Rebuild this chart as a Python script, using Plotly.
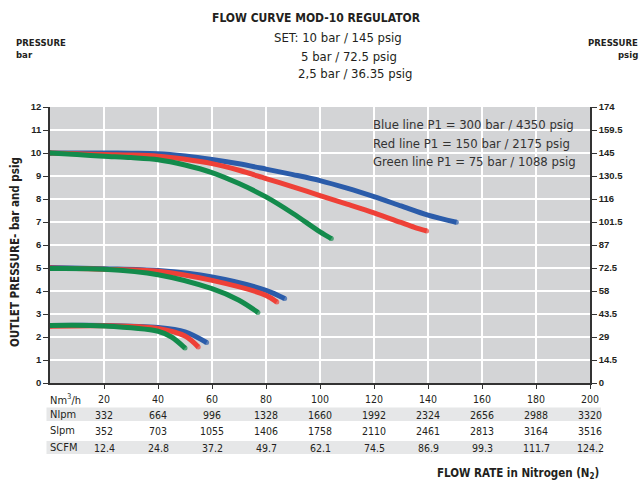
import plotly.graph_objects as go

# ---------------- data ----------------
blue_10_x = [0, 10, 20, 30, 40, 50, 60, 70, 80, 90, 100, 110, 120, 130, 140, 150.5]
blue_10_y = [10.0, 10.0, 10.0, 9.99, 9.97, 9.87, 9.72, 9.53, 9.3, 9.06, 8.8, 8.47, 8.1, 7.7, 7.3, 6.99]
red_10_x = [0, 10, 20, 30, 40, 50, 60, 70, 80, 90, 100, 110, 120, 130, 135, 139.5]
red_10_y = [10.0, 9.97, 9.93, 9.91, 9.86, 9.73, 9.54, 9.25, 8.89, 8.53, 8.15, 7.78, 7.4, 6.98, 6.77, 6.61]
green_10_x = [0, 10, 20, 30, 40, 50, 60, 70, 80, 90, 100, 104.2]
green_10_y = [10.0, 9.93, 9.86, 9.8, 9.71, 9.48, 9.15, 8.67, 8.09, 7.37, 6.57, 6.28]

blue_5_x = [0, 20, 40, 60, 80, 86.9]
blue_5_y = [5.02, 4.97, 4.89, 4.61, 4.03, 3.67]
red_5_x = [0, 20, 40, 60, 80, 84]
red_5_y = [5.0, 4.95, 4.86, 4.46, 3.81, 3.52]
green_5_x = [0, 20, 40, 60, 70, 77]
green_5_y = [4.98, 4.95, 4.71, 4.1, 3.6, 3.07]

blue_25_x = [0, 20, 40, 50, 58]
blue_25_y = [2.5, 2.5, 2.41, 2.22, 1.76]
red_25_x = [0, 20, 40, 50, 54.9]
red_25_y = [2.47, 2.49, 2.37, 2.04, 1.57]
green_25_x = [0, 20, 40, 45, 50]
green_25_y = [2.5, 2.48, 2.25, 2.0, 1.52]

nm3h = [20, 40, 60, 80, 100, 120, 140, 160, 180, 200]
nlpm = ["332", "664", "996", "1328", "1660", "1992", "2324", "2656", "2988", "3320"]
slpm = ["352", "703", "1055", "1406", "1758", "2110", "2461", "2813", "3164", "3516"]
scfm = ["12.4", "24.8", "37.2", "49.7", "62.1", "74.5", "86.9", "99.3", "111.7", "124.2"]
row_labels = ["Nm<sup>3</sup>/h", "Nlpm", "Slpm", "SCFM"]

bar_ticks = list(range(0, 13))
psig_ticks = [0, 14.5, 29, 43.5, 58, 72.5, 87, 101.5, 116, 130.5, 145, 159.5, 174]
psig_labels = ["0", "14.5", "29", "43.5", "58", "72.5", "87", "101.5", "116", "130.5", "145", "159.5", "174"]

legend_lines = ["Blue line P1 = 300 bar / 4350 psig",
                "Red line P1 = 150 bar / 2175 psig",
                "Green line P1 = 75 bar / 1088 psig"]

BLUE = "#2b5caa"
RED = "#ee4037"
GREEN = "#138b4c"
COND = "DejaVu Sans Condensed, sans-serif"
TXT = "#231f20"

fig = go.Figure()

curves = [
    (blue_10_x, blue_10_y, BLUE), (red_10_x, red_10_y, RED), (green_10_x, green_10_y, GREEN),
    (blue_5_x, blue_5_y, BLUE), (red_5_x, red_5_y, RED), (green_5_x, green_5_y, GREEN),
    (blue_25_x, blue_25_y, BLUE), (red_25_x, red_25_y, RED), (green_25_x, green_25_y, GREEN),
]
for xs, ys, c in curves:
    n = len(xs)
    fig.add_trace(go.Scatter(
        x=xs, y=ys, mode="lines+markers",
        line=dict(color=c, width=5, shape="spline", smoothing=0.9),
        marker=dict(color=c, size=[5] + [0] * (n - 2) + [5], line=dict(width=0)),
        showlegend=False, hoverinfo="skip"))

# invisible trace for right axis
fig.add_trace(go.Scatter(x=[0], y=[0], yaxis="y2", mode="markers",
                         marker=dict(opacity=0), showlegend=False, hoverinfo="skip"))

H = 276.0  # plot height px
def py(pix):
    return (383 - pix) / H

def px(pix):
    return (pix - 50) / 540

# table gray bands
for y_top, y_bot in ((407.5, 421), (441, 454)):
    fig.add_shape(type="rect", xref="paper", yref="paper",
                  x0=px(46.5), x1=px(601), y0=py(y_bot), y1=py(y_top),
                  fillcolor="#e6e7e8", line=dict(width=0), layer="below")

row_y = [399, 414.5, 431, 447.5]
rows = [[str(v) for v in nm3h], nlpm, slpm, scfm]
for ry, lab, vals in zip(row_y, row_labels, rows):
    fig.add_annotation(x=px(47.5), xref="paper", y=py(ry), yref="paper", text=lab,
                       showarrow=False, xanchor="left", yanchor="middle",
                       font=dict(family=COND, size=11, color=TXT))
    for xv, t in zip(nm3h, vals):
        fig.add_annotation(x=xv, xref="x", y=py(ry), yref="paper", text=t,
                           showarrow=False, xanchor="center", yanchor="middle",
                           font=dict(family=COND, size=10.5, color=TXT))

# legend text inside plot
for i, t in enumerate(legend_lines):
    fig.add_annotation(x=px(371), xref="paper", y=py(124.5 + i * 18.5), yref="paper",
                       text=t, showarrow=False, xanchor="left", yanchor="middle",
                       font=dict(family=COND, size=13, color="#333333"))

# titles
fig.add_annotation(x=px(316), xref="paper", y=py(18), yref="paper",
                   text="<b>FLOW CURVE MOD-10 REGULATOR</b>", showarrow=False,
                   xanchor="center", yanchor="middle",
                   font=dict(family=COND, size=12, color=TXT))
sub = [("SET: 10 bar / 145 psig", 272, 37), ("5 bar / 72.5 psig", 299, 56), ("2,5 bar / 36.35 psig", 296, 74)]
for t, xp, yp in sub:
    fig.add_annotation(x=px(xp), xref="paper", y=py(yp), yref="paper",
                       text=t, showarrow=False, xanchor="left", yanchor="middle",
                       font=dict(family=COND, size=13, color=TXT))

for t, yp in (("<b>PRESSURE</b>", 42), ("<b>bar</b>", 54)):
    fig.add_annotation(x=px(14), xref="paper", y=py(yp), yref="paper",
                       text=t, showarrow=False, xanchor="left", yanchor="middle",
                       font=dict(family=COND, size=9.5, color=TXT))
for t, yp in (("<b>PRESSURE</b>", 42), ("<b>psig</b>", 54)):
    fig.add_annotation(x=px(640), xref="paper", y=py(yp), yref="paper",
                       text=t, showarrow=False, xanchor="right", yanchor="middle",
                       font=dict(family=COND, size=9.5, color=TXT))

fig.add_annotation(x=px(15), xref="paper", y=py(252), yref="paper",
                   text="<b>OUTLET PRESSURE- bar and psig</b>", showarrow=False, textangle=-90,
                   xanchor="center", yanchor="middle",
                   font=dict(family=COND, size=11.5, color=TXT))
fig.add_annotation(x=px(601), xref="paper", y=py(473), yref="paper",
                   text="<b>FLOW RATE in Nitrogen (N<sub>2</sub>)</b>", showarrow=False,
                   xanchor="right", yanchor="middle",
                   font=dict(family=COND, size=11.5, color=TXT))

tickfont = dict(family="Liberation Sans, Arial, sans-serif", size=9.5, color=TXT, weight="bold")
fig.update_layout(
    width=641, height=486, autosize=False,
    margin=dict(l=50, r=51, t=107, b=103, pad=0),
    paper_bgcolor="white", plot_bgcolor="#d3d4d6",
    xaxis=dict(range=[0, 200], tickvals=nm3h, showticklabels=False,
               ticks="outside", ticklen=4, tickcolor="#333333",
               showgrid=True, gridcolor="white", gridwidth=1.5,
               showline=True, linecolor="#333333", linewidth=1.5,
               zeroline=False, fixedrange=True),
    yaxis=dict(range=[0, 12], tickvals=bar_ticks, ticks="outside", ticklen=5,
               tickcolor="#333333", tickfont=tickfont,
               showgrid=True, gridcolor="white", gridwidth=1.5,
               showline=True, linecolor="#333333", linewidth=1.5,
               zeroline=False, fixedrange=True),
    yaxis2=dict(range=[0, 174], tickvals=psig_ticks, ticktext=psig_labels,
                overlaying="y", side="right", ticks="outside", ticklen=5,
                tickcolor="#333333", tickfont=tickfont, showgrid=False,
                showline=True, linecolor="#333333", linewidth=1.5,
                zeroline=False, fixedrange=True),
)

fig.write_html("out.html", config={"displayModeBar": False},
               post_script="document.body.style.margin='0';document.body.style.overflow='hidden';")
